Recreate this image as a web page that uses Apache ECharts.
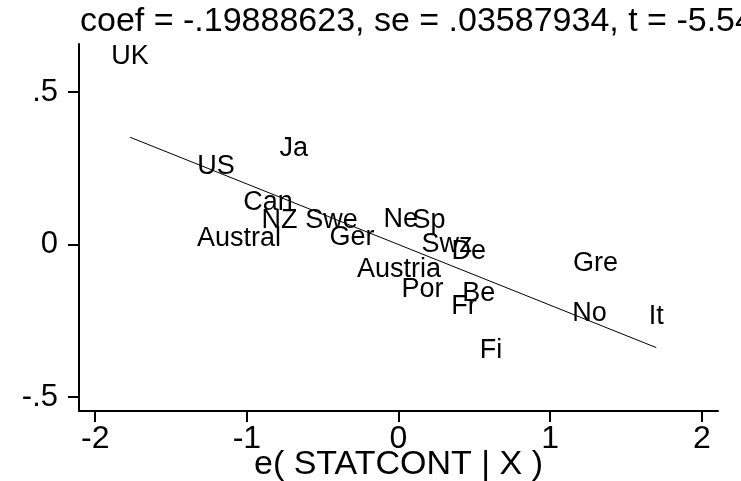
<!DOCTYPE html>
<html>
<head>
<meta charset="utf-8">
<script src="https://cdn.jsdelivr.net/npm/echarts@6/dist/echarts.min.js"></script>
<style>
  html, body { margin: 0; padding: 0; background: #fff; }
  #chart { width: 741px; height: 481px; }
</style>
</head>
<body>
<div id="chart"></div>
<script>
// country labels, placed at their (e(STATCONT|X), e(Y|X)) residuals
const countries = ['UK', 'Ja', 'US', 'Can', 'NZ', 'Swe', 'Austral', 'Ger', 'Ne', 'Sp',
  'Swz', 'De', 'Austria', 'Por', 'Be', 'Fr', 'Gre', 'No', 'It', 'Fi'];
const residX = [-1.77, -0.690, -1.204, -0.861, -0.784, -0.441, -1.052, -0.307, 0.015, 0.201,
  0.320, 0.463, 0.003, 0.158, 0.530, 0.432, 1.299, 1.260, 1.70, 0.610];
const residY = [0.625, 0.322, 0.263, 0.145, 0.086, 0.086, 0.026, 0.030, 0.089, 0.086,
  0.007, -0.016, -0.076, -0.141, -0.155, -0.197, -0.057, -0.219, -0.230, -0.340];

// fitted line endpoints (slope = coef)
const fitX = [-1.77, 1.70];
const fitY = [0.352, -0.338];

const xTicks = [-2, -1, 0, 1, 2];
const yTicks = [-0.5, 0, 0.5];

const titleText = 'coef = -.19888623, se = .03587934, t = -5.54';
const xName = 'e( STATCONT | X )';

const font = 'Liberation Sans, Arial, Helvetica, sans-serif';

function stataNum(v) {
  if (v === 0) return '0';
  let s = String(v);
  return s.replace(/^(-?)0\./, '$1.');
}

const myChart = echarts.init(document.getElementById('chart'));
myChart.setOption({
  backgroundColor: '#ffffff',
  animation: false,
  title: {
    text: titleText,
    left: 75,
    top: 0,
    textStyle: { fontFamily: font, fontSize: 34, fontWeight: 'normal', color: '#000' }
  },
  grid: { left: 79, right: 23, top: 44, bottom: 70, containLabel: false, outerBoundsMode: 'none' },
  xAxis: {
    type: 'value',
    min: -2.107,
    max: 2.107,
    name: xName,
    nameLocation: 'middle',
    nameGap: 37,
    nameMoveOverlap: false,
    nameTextStyle: { fontFamily: font, fontSize: 34, color: '#000' },
    splitLine: { show: false },
    axisLine: { show: true, onZero: false, lineStyle: { color: '#000', width: 2 } },
    axisTick: { show: true, customValues: xTicks, length: 11, lineStyle: { color: '#000', width: 2 } },
    axisLabel: { customValues: xTicks, margin: 12, fontFamily: font, fontSize: 32, color: '#000',
      formatter: v => stataNum(v) }
  },
  yAxis: {
    type: 'value',
    min: -0.546,
    max: 0.658,
    splitLine: { show: false },
    axisLine: { show: true, onZero: false, lineStyle: { color: '#000', width: 2 } },
    axisTick: { show: true, customValues: yTicks, length: 11, lineStyle: { color: '#000', width: 2 } },
    axisLabel: { customValues: yTicks, margin: 21, fontFamily: font, fontSize: 31, color: '#000',
      formatter: v => stataNum(v) }
  },
  series: [
    {
      type: 'line',
      data: fitX.map((x, i) => [x, fitY[i]]),
      showSymbol: false,
      lineStyle: { color: '#000', width: 1 },
      silent: true
    },
    {
      type: 'scatter',
      symbolSize: 0,
      itemStyle: { opacity: 1 },
      data: countries.map((c, i) => ({ name: c, value: [residX[i], residY[i]] })),
      label: {
        show: true,
        position: 'inside',
        offset: [0, 2],
        formatter: p => p.name,
        fontFamily: font,
        fontSize: 27,
        color: '#000',
        opacity: 1,
        textBorderWidth: 0
      }
    }
  ]
});
</script>
</body>
</html>
